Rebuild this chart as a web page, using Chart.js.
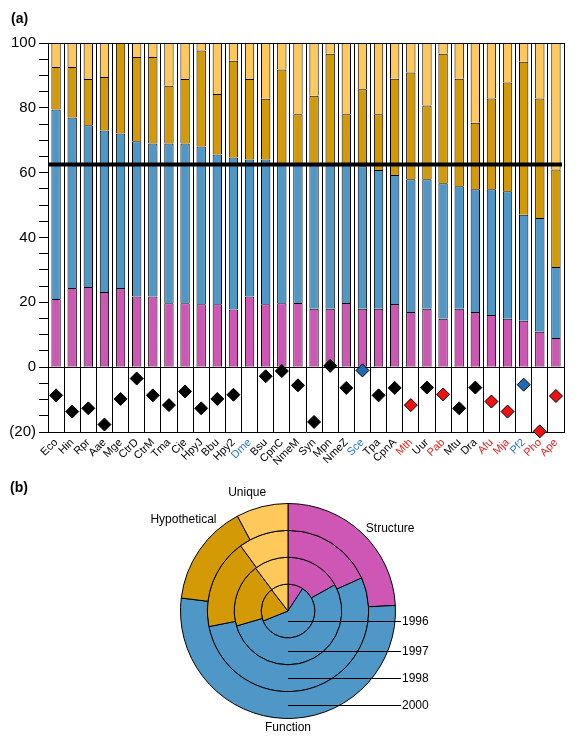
<!DOCTYPE html>
<html>
<head>
<meta charset="utf-8">
<script src="https://cdn.jsdelivr.net/npm/chart.js@4/dist/chart.umd.min.js"></script>
<style>
  body { margin: 0; background: #fff; }
  #wrap { position: relative; width: 581px; height: 753px; }
  canvas { position: absolute; left: 0; }
  #barChart { top: 0; }
  #ringChart { top: 470px; }
</style>
</head>
<body>
<div id="wrap">
  <canvas id="barChart" width="581" height="470"></canvas>
  <canvas id="ringChart" width="581" height="283"></canvas>
</div>
<script>
// (a) genome composition, percent of ORFs
const genomes = ['Eco','Hin','Rpr','Aae','Mge','CtrD','CtrM','Tma','Cje','HpyJ','Bbu','Hpy2','Dme','Bsu','CpnC','NmeM',
  'Syn','Mpn','NmeZ','Sce','Tpa','CpnA','Mth','Uur','Pab','Mtu','Dra','Afu','Mja','Pf2','Pho','Ape'];
const labelColors = ['k','k','k','k','k','k','k','k','k','k','k','k','b','k','k','k',
  'k','k','k','b','k','k','r','k','r','k','k','r','r','b','r','r'];
const structure = [21.0,24.4,24.7,23.2,24.4,21.8,21.8,19.7,19.7,19.4,19.4,17.8,21.8,19.4,19.7,19.8,
  18.0,18.0,19.8,18.0,18.0,19.5,17.0,18.0,14.9,18.0,17.0,16.1,14.9,14.3,10.9,9.0];
const functional = [58.5,52.6,49.9,49.8,47.7,47.9,47.2,49.3,49.3,48.7,46.2,46.9,42.3,44.7,42.8,42.4,
  44.2,44.2,42.4,44.0,42.8,39.8,41.0,40.0,41.8,37.8,37.9,38.8,39.4,32.7,35.1,21.9];
const hypothetical = [13.1,15.6,14.3,16.5,27.9,26.0,26.7,17.8,19.9,29.6,18.7,29.8,24.8,18.7,29.3,15.8,
  21.5,34.5,15.8,23.7,17.2,29.7,32.9,22.7,40.0,33.2,20.5,28.0,33.5,47.2,36.9,30.1];
const unique = [7.4,7.4,11.1,10.5,0,4.3,4.3,13.2,11.1,2.3,15.7,5.5,11.1,17.2,8.2,22.0,
  16.3,3.3,22.0,14.3,22.0,11.0,9.1,19.3,3.3,11.0,24.6,17.1,12.2,5.8,17.1,39.0];
const deviation = [-8.7,-13.7,-12.7,-17.7,-9.8,-3.5,-8.7,-11.7,-7.5,-12.7,-9.8,-8.5,null,-2.8,-1.2,-5.6,
  -16.9,0.4,-6.4,-1.0,-8.7,-6.4,-11.7,-6.3,-8.4,-12.7,-6.3,-10.6,-13.7,-5.4,-19.8,-8.9];
const deviationColors = ['k','k','k','k','k','k','k','k','k','k','k','k','k','k','k','k',
  'k','k','k','b','k','k','r','k','r','k','k','r','r','b','r','r'];
const meanLine = 62.5;

// (b) rings, outer to inner
const categories = ['Structure','Function','Hypothetical','Unique'];
const years = ['2000','1998','1997','1996'];
const ringStructure = [24.2,18.3,16.9,9.2];
const ringFunction = [52.8,53.6,53.6,59.7];
const ringHypothetical = [15.3,18.1,19.2,20.6];
const ringUnique = [7.8,10.0,10.3,10.5];

const PINK = '#CE56B4', BLUE = '#4E97C6', GOLD = '#D39A05', LIGHT = '#FFC85A';
const textCol = {k: '#000', b: '#2878C0', r: '#E62020'};
const markCol = {k: '#000', b: '#1E6AB4', r: '#EE1111'};
const FONT = '"Liberation Sans", Arial, sans-serif';

const panelA = {
  id: 'panelA',
  beforeDatasetDraw(chart, args) {
    if (args.meta.type !== 'line') return;
    const {ctx, chartArea: a, scales: {y}} = chart;
    ctx.save();
    ctx.strokeStyle = '#000';
    ctx.lineWidth = 1;
    ctx.beginPath();
    ctx.moveTo(a.left, a.top + 0.5); ctx.lineTo(a.right, a.top + 0.5);
    const y0 = Math.round(y.getPixelForValue(0)) + 0.5;
    ctx.moveTo(a.left, y0); ctx.lineTo(a.right, y0);
    ctx.stroke();
    ctx.lineWidth = 4;
    const ym = y.getPixelForValue(meanLine);
    ctx.beginPath(); ctx.moveTo(a.left, ym); ctx.lineTo(a.right - 2, ym); ctx.stroke();
    ctx.restore();
  },
  afterDraw(chart) {
    const ctx = chart.ctx;
    ctx.save();
    ctx.font = 'bold 14px ' + FONT;
    ctx.fillStyle = '#000';
    ctx.textBaseline = 'middle';
    ctx.fillText('(a)', 11, 19);
    ctx.restore();
  }
};

new Chart(document.getElementById('barChart'), {
  data: {
    labels: genomes,
    datasets: [
      { type: 'line', data: deviation, order: -1, showLine: false, clip: false,
        pointStyle: 'rectRot', pointRadius: 6.5, pointBorderWidth: 1, pointBorderColor: '#000',
        pointBackgroundColor: deviationColors.map(c => markCol[c]) },
      { type: 'bar', label: 'Structure', data: structure, backgroundColor: PINK },
      { type: 'bar', label: 'Function', data: functional, backgroundColor: BLUE },
      { type: 'bar', label: 'Hypothetical', data: hypothetical, backgroundColor: GOLD },
      { type: 'bar', label: 'Unique', data: unique, backgroundColor: LIGHT }
    ]
  },
  options: {
    responsive: false,
    animation: false,
    layout: { padding: { top: 43, right: 17, left: 0, bottom: 0 } },
    plugins: { legend: { display: false }, tooltip: { enabled: false } },
    datasets: { bar: { borderColor: '#000', borderWidth: 1, borderSkipped: 'start', barPercentage: 0.58, categoryPercentage: 1 } },
    scales: {
      x: {
        stacked: true,
        offset: true,
        afterFit: s => { s.height = 38; },
        grid: { color: '#000', drawTicks: false, offset: true },
        border: { color: '#000' },
        ticks: { autoSkip: false, minRotation: 45, maxRotation: 45, padding: 4,
          color: c => textCol[labelColors[c.index]], font: { family: FONT, size: 11 } }
      },
      y: {
        stacked: true,
        min: -20,
        max: 100,
        afterFit: s => { s.width = 48; },
        grid: { drawOnChartArea: false, color: '#000', tickLength: 9 },
        border: { color: '#000' },
        ticks: { stepSize: 5, autoSkip: false, padding: 3, color: '#000', font: { family: FONT, size: 15 },
          callback: v => v % 20 ? '' : (v < 0 ? '(' + (-v) + ')' : String(v)) }
      }
    }
  },
  plugins: [panelA]
});

const ringLabelPos = [[51, 24], [180, 9], [311, 31], [341, 18]]; // angle (deg from top), gap beyond outer radius

const panelB = {
  id: 'panelB',
  afterDraw(chart) {
    const ctx = chart.ctx;
    const outer = chart.getDatasetMeta(0).data[0];
    const cx = outer.x, cy = outer.y, R = outer.outerRadius;
    ctx.save();
    ctx.fillStyle = '#000';
    ctx.strokeStyle = '#000';
    ctx.font = '12px ' + FONT;
    ctx.textAlign = 'center';
    ctx.textBaseline = 'middle';
    categories.forEach((c, i) => {
      const a = ringLabelPos[i][0] * Math.PI / 180, r = R + ringLabelPos[i][1];
      ctx.fillText(c, cx + Math.sin(a) * r, cy - Math.cos(a) * r);
    });
    ctx.textAlign = 'left';
    ctx.lineWidth = 1;
    years.forEach((yr, i) => {
      const arc = chart.getDatasetMeta(i).data[0];
      const ly = Math.round(cy + (arc.innerRadius + arc.outerRadius) / 2) - (arc.innerRadius ? 0 : 3) + 0.5;
      ctx.beginPath();
      ctx.moveTo(cx, ly);
      ctx.lineTo(cx + 113, ly);
      ctx.stroke();
      ctx.fillText(yr, cx + 114, ly);
    });
    ctx.font = 'bold 14px ' + FONT;
    ctx.fillText('(b)', 10, 18);
    ctx.restore();
  }
};

new Chart(document.getElementById('ringChart'), {
  type: 'doughnut',
  data: {
    labels: categories,
    datasets: years.map((yr, i) => ({
      label: yr,
      data: [ringStructure[i], ringFunction[i], ringHypothetical[i], ringUnique[i]],
      backgroundColor: [PINK, BLUE, GOLD, LIGHT],
      borderColor: '#000',
      borderWidth: 1
    }))
  },
  options: {
    responsive: false,
    animation: false,
    cutout: 0,
    layout: { padding: { left: 180, right: 185, top: 33, bottom: 34 } },
    plugins: { legend: { display: false }, tooltip: { enabled: false } }
  },
  plugins: [panelB]
});
</script>
</body>
</html>
